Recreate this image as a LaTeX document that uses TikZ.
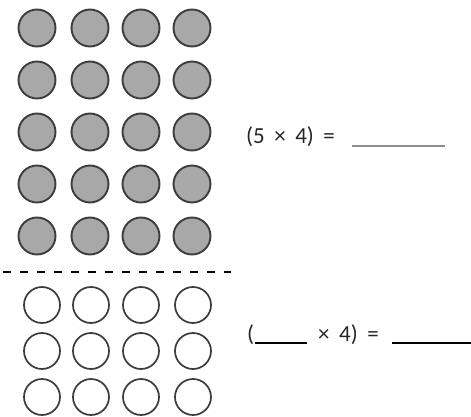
\documentclass[tikz,border=0pt]{standalone}
\usepackage{fontspec}
\setmainfont{Carlito}
\usepackage{tikz}
\usetikzlibrary{positioning,calc}
\definecolor{DotFill}{HTML}{A8A8A8}
\definecolor{DotEdge}{HTML}{3C3C3C}
\definecolor{BlankGray}{HTML}{8E8E8E}
\newcommand{\gapsp}{\hspace{9.5pt}}
\tikzset{
  fulldot/.style={circle,draw=DotEdge,fill=DotFill,line width=1.9pt,minimum size=37pt,inner sep=0pt},
  emptydot/.style={circle,draw=DotEdge,fill=white,line width=1.7pt,minimum size=36pt,inner sep=0pt},
  eqtext/.style={font=\fontsize{23}{26}\selectfont,inner sep=0pt,text=black!85},
  blankline/.style={line width=2pt},
  divider/.style={line width=2.6pt,dash pattern=on 8pt off 9pt}
}
\begin{document}
\begin{tikzpicture}[x=1pt,y=-1pt]
\useasboundingbox (0,0) rectangle (471,417);
% shaded array: 5 rows of 4
\foreach \r in {1,...,5}
  \foreach \c/\cx in {1/37,2/90,3/141,4/192}
    \node[fulldot] (g-\r-\c) at (\cx,{28+52*(\r-1)}) {};
% divider
\coordinate (divL) at (3,272);
\coordinate (divR) at (231,272);
\draw[divider] (divL) -- (divR);
% open array: 3 rows of 4
\foreach \r in {1,2,3}
  \foreach \c/\cx in {1/42,2/91,3/141,4/193}
    \node[emptydot] (w-\r-\c) at (\cx,{305+46*(\r-1)}) {};
% first equation
\node[eqtext,anchor=base west] (eqA) at (246,143) {(5\gapsp×\gapsp4)\gapsp=};
\coordinate (blankAL) at (352,146);
\coordinate (blankAR) at (445,146);
\draw[blankline,draw=BlankGray] (blankAL) -- (blankAR);
% second equation
\node[eqtext,anchor=base west] (eqBopen) at (247,341) {(};
\coordinate (blankBL) at (255,343);
\coordinate (blankBR) at (307,343);
\draw[blankline,draw=black] (blankBL) -- (blankBR);
\node[eqtext,anchor=base west] (eqB) at (318,341) {×\gapsp4)\gapsp=};
\coordinate (blankCL) at (392,343);
\coordinate (blankCR) at (471,343);
\draw[blankline,draw=black] (blankCL) -- (blankCR);
\end{tikzpicture}
\end{document}
